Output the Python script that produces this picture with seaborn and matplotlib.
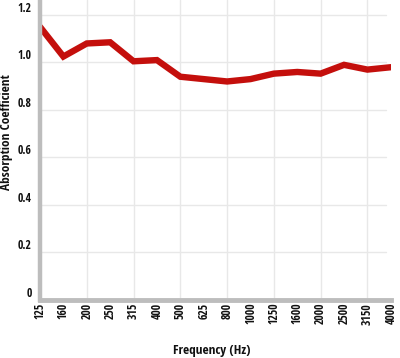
import matplotlib
matplotlib.use("Agg")
import matplotlib.pyplot as plt
import seaborn as sns
import pandas as pd

freqs = ["125", "160", "200", "250", "315", "400", "500", "625", "800",
         "1000", "1250", "1600", "2000", "2500", "3150", "4000"]
absorption = [1.15, 1.025, 1.08, 1.085, 1.005, 1.01, 0.94, 0.93, 0.92,
              0.93, 0.953, 0.96, 0.953, 0.99, 0.97, 0.98]
yticks = [0, 0.2, 0.4, 0.6, 0.8, 1.0, 1.2]
ytick_labels = ["0", "0.2", "0.4", "0.6", "0.8", "1.0", "1.2"]


def main():
    sns.set_style("white")
    plt.rcParams["font.family"] = ["Open Sans Condensed", "DejaVu Sans"]
    plt.rcParams["font.weight"] = "bold"
    plt.rcParams["text.color"] = "#111111"
    plt.rcParams["axes.labelcolor"] = "#111111"
    plt.rcParams["xtick.labelcolor"] = "#111111"
    plt.rcParams["ytick.labelcolor"] = "#111111"

    df = pd.DataFrame({"pos": range(len(freqs)), "value": absorption})

    fig = plt.figure(figsize=(4, 3.58), dpi=100)
    ax = fig.add_axes([0.1, 0.162, 0.877, 0.838])

    sns.lineplot(data=df, x="pos", y="value", color="#c40f0c", linewidth=4.6,
                 solid_joinstyle="miter", ax=ax, zorder=5)

    ax.set_xlim(0, len(freqs) - 1)
    ax.set_ylim(0, 1.263)

    # gridlines: horizontal at every y tick, vertical at every other category
    for y in yticks:
        ax.axhline(y, color="#e8e8e8", lw=1, zorder=0, xmax=0.985)
    for i in range(2, len(freqs), 2):
        ax.axvline(i, color="#e8e8e8", lw=1, zorder=0)

    for side in ["top", "right"]:
        ax.spines[side].set_visible(False)
    ax.spines["left"].set_color("#bdbdbd")
    ax.spines["left"].set_linewidth(3.2)
    ax.spines["bottom"].set_color("#bdbdbd")
    ax.spines["bottom"].set_linewidth(3.5)
    ax.spines["left"].set_zorder(6)
    ax.spines["bottom"].set_zorder(6)

    ax.set_xticks(range(len(freqs)))
    ax.set_xticklabels(freqs, rotation=90)
    ax.set_yticks(yticks)
    ax.set_yticklabels(ytick_labels)
    ax.tick_params(axis="x", length=18, width=0.8, color="#e6e6e6",
                   pad=-16, labelsize=8.5, direction="out")
    ax.tick_params(axis="y", length=18, width=0.8, color="#e6e6e6",
                   pad=-12, labelsize=8.5, direction="out")
    for lab in ax.get_yticklabels():
        lab.set_va("bottom")
    for lab in ax.get_xticklabels():
        lab.set_va("top")

    ax.set_xlabel("Frequency (Hz)", fontsize=9.5, fontweight="bold")
    ax.set_ylabel("Absorption Coefficient", fontsize=9.5, fontweight="bold")
    ax.xaxis.set_label_coords(0.49, -0.147)
    ax.yaxis.set_label_coords(-0.076, 0.56)

    fig.savefig("out.png", dpi=100)


if __name__ == "__main__":
    main()
